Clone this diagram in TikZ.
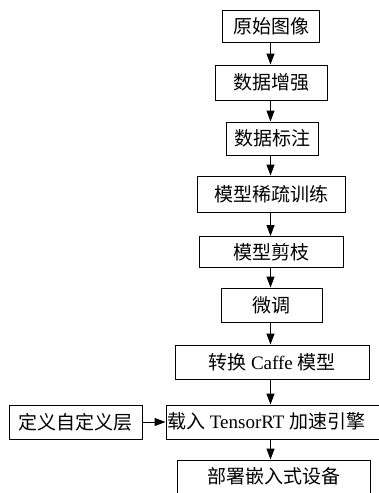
\documentclass[tikz,border=0pt]{standalone}
\usepackage{fontspec}
\setmainfont{Liberation Serif}
\newfontfamily\cjk{Noto Sans CJK SC}
\usetikzlibrary{arrows.meta}
\begin{document}
\begin{tikzpicture}[x=1pt,y=-1pt,
  box/.style={draw, line width=1pt, inner sep=0pt, align=center,
    font=\fontsize{19}{21}\selectfont},
  arr/.style={line width=1pt, -{Triangle[length=11pt,width=8pt]}}]
\useasboundingbox (0,0) rectangle (379,493);
\clip (0,0) rectangle (379,493);
\coordinate (ax) at (270.5,0);
\node[box, minimum width=97pt, minimum height=32pt] (a1) at (271,26) {\cjk 原始图像};
\node[box, minimum width=112pt, minimum height=35pt] (a2) at (271,82.5) {\cjk 数据增强};
\node[box, minimum width=92pt, minimum height=33pt] (a3) at (272,138.5) {\cjk 数据标注};
\node[box, minimum width=148pt, minimum height=36pt] (a4) at (271,194) {\cjk 模型稀疏训练};
\node[box, minimum width=144pt, minimum height=31pt] (a5) at (271,252) {\cjk 模型剪枝};
\node[box, minimum width=101pt, minimum height=34pt] (a6) at (271.5,305) {\cjk 微调};
\node[box, minimum width=194pt, minimum height=34pt] (a7) at (272,362) {{\cjk 转换} Caffe {\cjk 模型}};
\node[box, minimum width=218pt, minimum height=34pt] (a8) at (275,422) {};
\node[anchor=west, inner sep=0pt, font=\fontsize{19}{21}\selectfont] (t8) at (167,421) {{\cjk 载入} TensorRT {\cjk 加速引擎}};
\node[box, minimum width=193pt, minimum height=44pt] (a9) at (273.5,482) {};
\node[anchor=north, inner sep=0pt, font=\fontsize{19}{21}\selectfont] (t9) at (273.5,467) {\cjk 部署嵌入式设备};
\node[box, minimum width=133pt, minimum height=34pt] (b) at (75.5,422) {\cjk 定义自定义层};
\draw[arr] (a1.south -| ax) -- (a2.north -| ax);
\draw[arr] (a2.south -| ax) -- (a3.north -| ax);
\draw[arr] (a3.south -| ax) -- (a4.north -| ax);
\draw[arr] (a4.south -| ax) -- (a5.north -| ax);
\draw[arr] (a5.south -| ax) -- (a6.north -| ax);
\draw[arr] (a6.south -| ax) -- (a7.north -| ax);
\draw[arr] (a7.south -| ax) -- (a8.north -| ax);
\draw[arr] (a8.south -| ax) -- (a9.north -| ax);
\draw[arr] (b.east) -- (b.east -| a8.west);
\end{tikzpicture}
\end{document}
